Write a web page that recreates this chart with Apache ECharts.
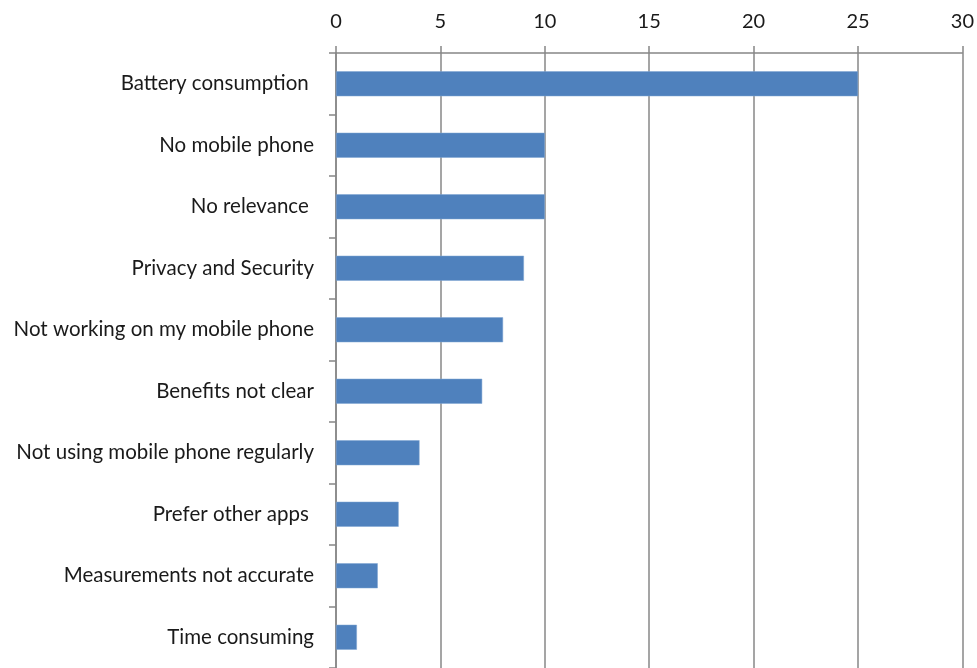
<!DOCTYPE html>
<html>
<head>
<meta charset="utf-8">
<script src="https://cdn.jsdelivr.net/npm/echarts@6/dist/echarts.min.js"></script>
<style>
html,body{margin:0;padding:0;background:#fff;}
#chart{width:977px;height:668px;}
</style>
</head>
<body>
<div id="chart"></div>
<script>
const categories = [
  "Battery consumption ",
  "No mobile phone",
  "No relevance ",
  "Privacy and Security",
  "Not working on my mobile phone",
  "Benefits not clear",
  "Not using mobile phone regularly",
  "Prefer other apps ",
  "Measurements not accurate",
  "Time consuming"
];
const values = [25, 10, 10, 9, 8, 7, 4, 3, 2, 1];
const xTicks = { min: 0, max: 30, interval: 5 };

const chart = echarts.init(document.getElementById('chart'));
const gray = '#878787';
const font = 'Lato, "Open Sans", sans-serif';
chart.setOption({
  animation: false,
  grid: { left: 336, right: 11, top: 53, height: 621, containLabel: false },
  xAxis: {
    type: 'value',
    position: 'top',
    min: xTicks.min, max: xTicks.max, interval: xTicks.interval,
    axisLine: { show: true, lineStyle: { color: gray, width: 1.5 } },
    axisTick: { show: true, length: 7, lineStyle: { color: gray, width: 1.5 } },
    splitLine: { show: true, lineStyle: { color: gray, width: 1.5 } },
    axisLabel: { color: '#1a1a1a', fontSize: 20, fontFamily: font, margin: 21 }
  },
  yAxis: {
    type: 'category',
    inverse: true,
    data: categories,
    axisLine: { show: true, lineStyle: { color: gray, width: 1.5 } },
    axisTick: { show: true, length: 7, lineStyle: { color: gray, width: 1.5 } },
    axisLabel: { color: '#1a1a1a', fontSize: 20.5, fontFamily: font, margin: 22 }
  },
  series: [{
    type: 'bar',
    data: values,
    barWidth: 25,
    itemStyle: { color: '#4F81BD', borderColor: '#7FA4D3', borderWidth: 0.5 }
  }]
});
</script>
</body>
</html>
